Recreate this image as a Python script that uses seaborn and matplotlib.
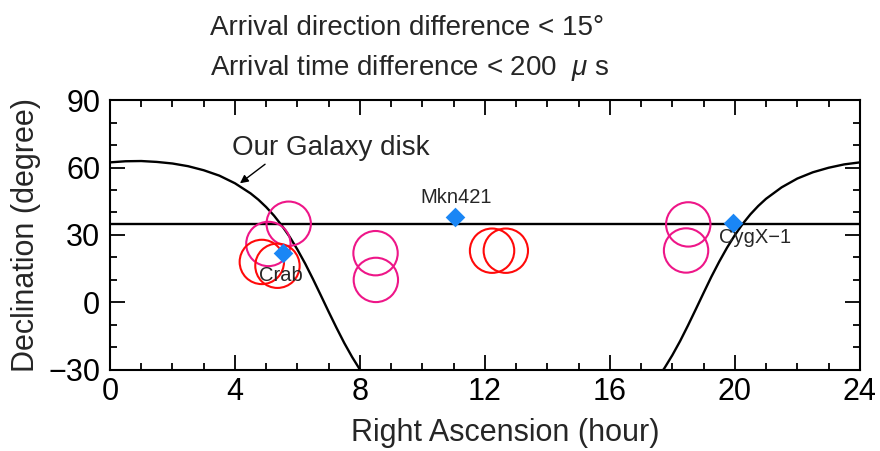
import matplotlib
matplotlib.use("Agg")
import matplotlib.pyplot as plt
from matplotlib.ticker import MultipleLocator
import seaborn as sns

# Galactic plane (b = 0) in equatorial coordinates, two visible branches
disk_east_ra = [0.0, 0.5, 1.0, 1.5, 2.0, 2.5, 3.0, 3.5, 4.0, 4.5, 4.75, 5.0, 5.25,
                5.5, 5.75, 6.0, 6.25, 6.5, 6.75, 7.0, 7.25, 7.5, 7.75, 8.0, 8.1]
disk_east_dec = [62.3, 62.8, 62.9, 62.5, 61.8, 60.6, 58.8, 56.4, 53.0, 48.5, 45.7, 42.4, 38.6,
                 34.2, 29.2, 23.5, 17.2, 10.3, 3.1, -4.2, -11.3, -18.1, -24.3, -29.9, -32.0]
disk_west_ra = [17.6, 17.75, 18.0, 18.25, 18.5, 18.75, 19.0, 19.25, 19.5, 19.75, 20.0,
                20.25, 20.5, 20.75, 21.0, 21.5, 22.0, 22.5, 23.0, 23.5, 24.0]
disk_west_dec = [-32.2, -29.2, -23.5, -17.2, -10.3, -3.1, 4.2, 11.4, 18.1, 24.3, 29.9,
                 34.9, 39.2, 42.9, 46.1, 51.2, 55.1, 57.9, 59.9, 61.4, 62.3]

# Declination of the zenith line
zenith_dec = 35.0

# Coincident event pairs
red_ra = [4.86, 5.36, 12.23, 12.67]
red_dec = [18.0, 16.3, 23.0, 23.0]
pink_ra = [5.72, 5.07, 8.50, 8.51, 18.51, 18.44]
pink_dec = [35.0, 26.0, 21.9, 10.0, 34.7, 23.1]

# Known gamma-ray sources
source_names = ["Crab", "Mkn421", "CygX\u22121"]
source_ra = [5.55, 11.04, 19.95]
source_dec = [21.9, 38.1, 35.2]

sns.set_style("ticks")
plt.rcParams["font.family"] = ["Liberation Sans", "DejaVu Sans"]
plt.rcParams["mathtext.fontset"] = "custom"
plt.rcParams["mathtext.rm"] = "Liberation Sans"
plt.rcParams["mathtext.it"] = "Liberation Sans:italic"

fig = plt.figure(figsize=(8.8, 4.51), dpi=100)
ax = fig.add_axes([0.125, 0.180, 0.852, 0.598])

# galaxy disk
for ra, dec in ((disk_east_ra, disk_east_dec), (disk_west_ra, disk_west_dec)):
    sns.lineplot(x=ra, y=dec, ax=ax, sort=False, estimator=None,
                 color="black", linewidth=1.7, zorder=2)
ax.axhline(zenith_dec, color="black", linewidth=1.7, zorder=2)

# event circles
for ra, dec, col in ((pink_ra, pink_dec, "#ee1688"), (red_ra, red_dec, "#ff0a0a")):
    sns.scatterplot(x=ra, y=dec, ax=ax, marker="o", s=1020, color=col,
                    edgecolor=col, linewidth=1.5, zorder=3)
    ax.collections[-1].set_facecolor("none")
    ax.collections[-1].set_edgecolor(col)

# sources
sns.scatterplot(x=source_ra, y=source_dec, ax=ax, marker="D", s=100,
                color="#1a86f5", edgecolor="#1a86f5", linewidth=0, zorder=4)
label_offsets = [(-1.5, -20), (0.7, 9.9), (16, -14.4)]
for name, ra, dec, off in zip(source_names, source_ra, source_dec, label_offsets):
    ax.annotate(name, xy=(ra, dec), xytext=off, textcoords="offset points",
                ha="center", va="baseline", fontsize=14.5, zorder=5)

ax.annotate("Our Galaxy disk", xy=(4.16, 53.0), xytext=(3.9, 65.6),
            ha="left", va="baseline", fontsize=20,
            arrowprops=dict(arrowstyle="-|>", color="black", lw=1.0,
                            mutation_scale=12, shrinkA=0, shrinkB=0,
                            relpos=(0.19, 0.0)))

ax.set_xlim(0, 24)
ax.set_ylim(-30, 90)
ax.xaxis.set_major_locator(MultipleLocator(4))
ax.xaxis.set_minor_locator(MultipleLocator(1))
ax.yaxis.set_major_locator(MultipleLocator(30))
ax.yaxis.set_minor_locator(MultipleLocator(10))
ax.tick_params(which="both", direction="in", top=True, right=True,
               width=1.3, colors="black", labelsize=22)
ax.tick_params(which="major", length=11)
ax.tick_params(which="minor", length=5)
ax.tick_params(axis="x", pad=5)
ax.tick_params(axis="y", pad=7)
for sp in ax.spines.values():
    sp.set_linewidth(1.5)
    sp.set_color("black")

ax.set_xlabel("Right Ascension (hour)", fontsize=22)
ax.set_ylabel("Declination (degree)", fontsize=22)
ax.xaxis.set_label_coords(0.527, -0.18)
ax.yaxis.set_label_coords(-0.092, 0.5)

fig.text(0.2386, 0.922, "Arrival direction difference < 15\u00b0", fontsize=20, va="baseline")
fig.text(0.2386, 0.834, r"Arrival time difference < 200  $\mathit{\mu}$ s", fontsize=20, va="baseline")

fig.savefig("out.png", dpi=100)
